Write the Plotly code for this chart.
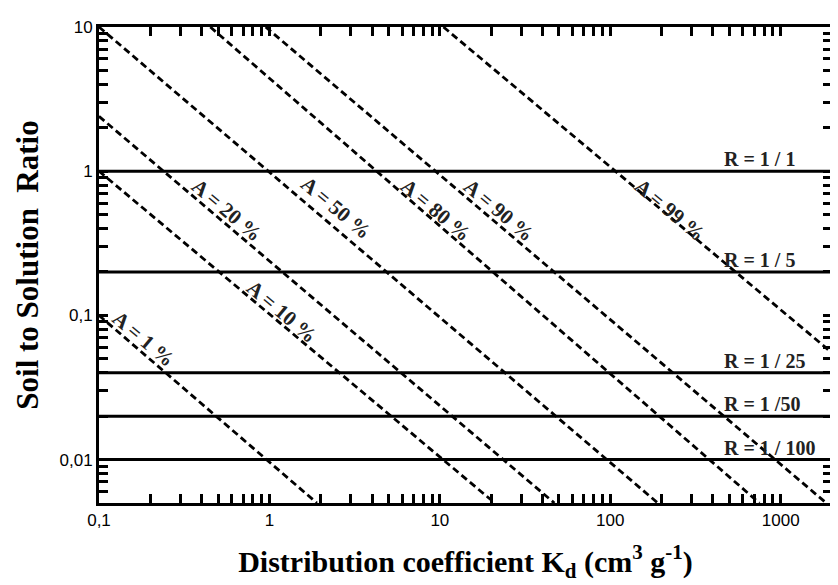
import math
import plotly.graph_objects as go

# ---- data ----
a_labels = ["A = 1 %", "A = 10 %", "A = 20 %", "A = 50 %", "A = 80 %", "A = 90 %", "A = 99 %"]
a_kd_start = [0.1, 0.1, 0.1, 0.1, 0.45, 0.95, 10.5]
a_r_start = [0.1, 1.0, 2.4, 10, 10, 10, 10]
a_kd_end = [1.9, 21, 47, 190, 750, 1850, 2000]
a_r_end = [0.005, 0.005, 0.005, 0.005, 0.005, 0.005, 0.055]

r_values = [1, 0.2, 0.04, 0.02, 0.01]
r_labels = ["R = 1 / 1", "R = 1 / 5", "R = 1 / 25", "R = 1 /50", "R = 1 / 100"]

x_tickvals = [0.1, 1, 10, 100, 1000]
x_ticktext = ["0,1", "1", "10", "100", "1000"]
y_tickvals = [0.01, 0.1, 1, 10]
y_ticktext = ["0,01", "0,1", "1", "10"]

x_range = [0.1, 2000]
y_range = [0.005, 10]

# label anchor positions (Kd, R) for the rotated A labels
a_label_kd = [0.183, 1.19, 0.561, 2.47, 9.48, 22.1, 224]
a_label_r = [0.0686, 0.106, 0.538, 0.556, 0.538, 0.538, 0.538]
r_label_kd = 450

serif = "Liberation Serif"
sans = "Liberation Sans"


def tick_set(lo, hi, majors, texts):
    """major ticks labelled, minor (2..9 x 10^k) ticks unlabelled"""
    vals, labs = [], []
    for k in range(-4, 5):
        for m in range(1, 10):
            v = m * 10.0 ** k
            if lo * 0.999 <= v <= hi * 1.001:
                vals.append(v)
                lab = ""
                for mv, mt in zip(majors, texts):
                    if abs(v - mv) / mv < 1e-6:
                        lab = mt
                labs.append(lab)
    return vals, labs


xt_vals, xt_text = tick_set(*x_range, x_tickvals, x_ticktext)
yt_vals, yt_text = tick_set(*y_range, y_tickvals, y_ticktext)

fig = go.Figure()

for i in range(len(a_labels)):
    fig.add_trace(go.Scatter(
        x=[a_kd_start[i], a_kd_end[i]], y=[a_r_start[i], a_r_end[i]],
        mode="lines", line=dict(color="black", width=2.8, dash="7px,4px"),
        showlegend=False, hoverinfo="skip"))

for r in r_values:
    fig.add_trace(go.Scatter(
        x=x_range, y=[r, r], mode="lines",
        line=dict(color="black", width=3),
        showlegend=False, hoverinfo="skip"))

annotations = []
for i, t in enumerate(a_labels):
    annotations.append(dict(
        x=math.log10(a_label_kd[i]), y=math.log10(a_label_r[i]),
        xref="x", yref="y", text="<b>" + t + "</b>", showarrow=False, textangle=40,
        font=dict(family=serif, size=21, color="#222"),
        xanchor="center", yanchor="middle"))

for r, t in zip(r_values, r_labels):
    annotations.append(dict(
        x=math.log10(r_label_kd), y=math.log10(r), xref="x", yref="y",
        text="<b>" + t + "</b>", showarrow=False, xanchor="left", yanchor="bottom",
        yshift=-1, font=dict(family=serif, size=20, color="#222")))

xr = [math.log10(x_range[0]), math.log10(x_range[1])]
yr = [math.log10(y_range[0]), math.log10(y_range[1])]

# the page body has an 8px margin: the figure is sized/offset to compensate
fig.update_layout(
    width=830, height=577,
    margin=dict(l=91, r=3, t=19, b=82),
    paper_bgcolor="white", plot_bgcolor="white",
    annotations=annotations,
    xaxis=dict(
        type="log", range=xr,
        tickmode="array", tickvals=xt_vals, ticktext=xt_text,
        ticks="inside", ticklen=9, tickwidth=2.5, tickcolor="black",
        showline=True, linewidth=3, linecolor="black", mirror="ticks",
        showgrid=False, zeroline=False,
        tickfont=dict(family=sans, size=17, color="black"),
        title=dict(text="<b>Distribution coefficient K<sub>d</sub> (cm<sup>3</sup> g<sup>-1</sup>)</b>",
                   font=dict(family=serif, size=30, color="black"),
                   standoff=22),
    ),
    yaxis=dict(
        type="log", range=yr,
        tickmode="array", tickvals=yt_vals, ticktext=yt_text,
        ticks="inside", ticklen=9, tickwidth=2.5, tickcolor="black",
        showline=True, linewidth=3, linecolor="black", mirror="ticks",
        showgrid=False, zeroline=False,
        tickfont=dict(family=sans, size=17, color="black"),
        title=dict(text="<b>Soil to Solution  Ratio</b>",
                   font=dict(family=serif, size=31, color="black"),
                   standoff=12),
    ),
)

fig.write_html("out.html")
